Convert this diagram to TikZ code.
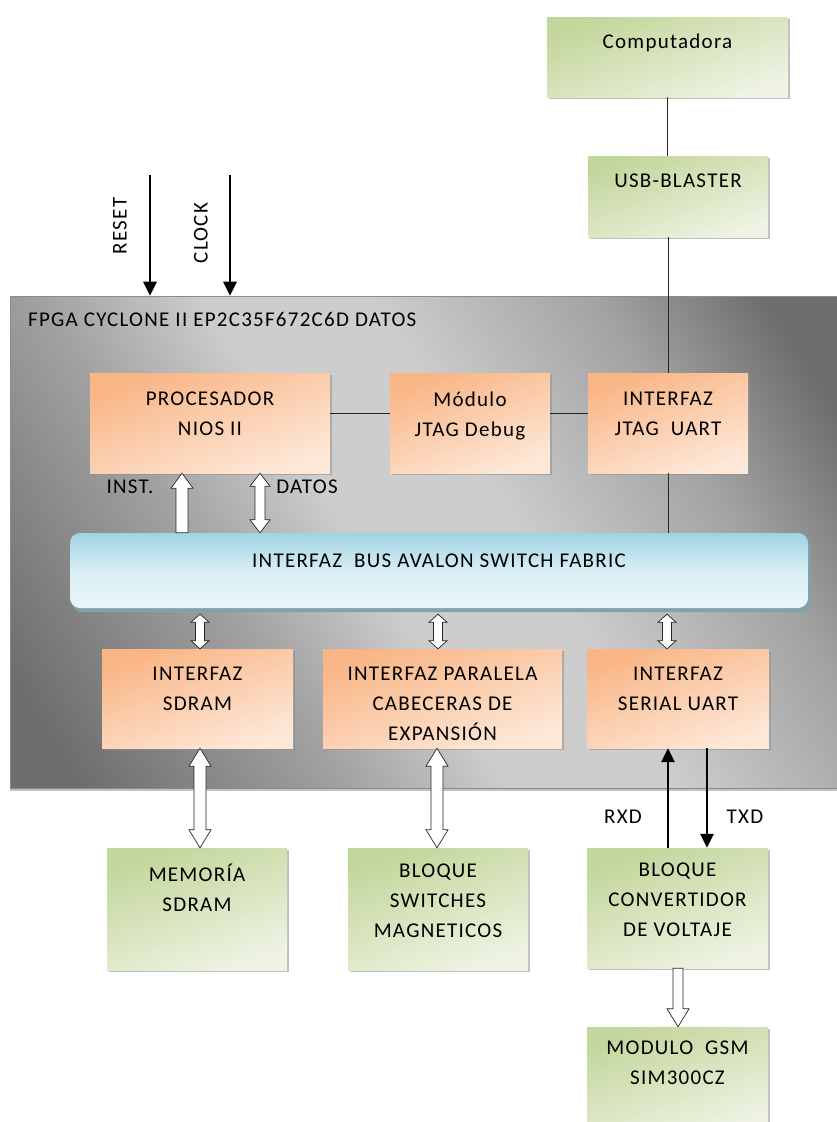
\documentclass[tikz,border=0pt]{standalone}
\usepackage{fontspec}
\setmainfont{Carlito}[LetterSpace=6]
\usetikzlibrary{arrows.meta,shadows,calc}

\definecolor{gtop}{HTML}{C3D69B}
\definecolor{gbot}{HTML}{EEF3E3}
\definecolor{otop}{HTML}{F9B585}
\definecolor{obot}{HTML}{FDE8D8}
\definecolor{btop}{HTML}{9ED3E3}
\definecolor{bmid}{HTML}{D8EEF4}
\definecolor{bbot}{HTML}{E9F6F9}
\definecolor{bdark}{HTML}{7EA3AE}
\definecolor{fpdark}{HTML}{6E6E6E}
\definecolor{fpmid}{HTML}{A2A2A2}
\definecolor{fplight}{HTML}{CDCDCD}
\pgfdeclareverticalshading{fpgaband}{100bp}{color(0bp)=(fpdark); color(20bp)=(fpdark); color(36bp)=(fpmid); color(46bp)=(fplight); color(56bp)=(fplight); color(70bp)=(fpmid); color(80bp)=(fpdark); color(100bp)=(fpdark)}

% hollow double-headed vertical arrow: x, top ref, bottom ref, shaft half, head half, head length
\newcommand{\vdbl}[6]{%
  \draw[hollow] let \p1=#2, \p2=#3 in
    (#1pt,\y1) -- (#1pt+#5,\y1-#6) -- (#1pt+#4,\y1-#6) -- (#1pt+#4,\y2+#6) -- (#1pt+#5,\y2+#6)
    -- (#1pt,\y2) -- (#1pt-#5,\y2+#6) -- (#1pt-#4,\y2+#6) -- (#1pt-#4,\y1-#6) -- (#1pt-#5,\y1-#6) -- cycle;}
% hollow single arrow pointing up (tip at top ref)
\newcommand{\vup}[6]{%
  \draw[hollow] let \p1=#2, \p2=#3 in
    (#1pt,\y1) -- (#1pt+#5,\y1-#6) -- (#1pt+#4,\y1-#6) -- (#1pt+#4,\y2)
    -- (#1pt-#4,\y2) -- (#1pt-#4,\y1-#6) -- (#1pt-#5,\y1-#6) -- cycle;}
% hollow single arrow pointing down (tip at bottom ref)
\newcommand{\vdown}[6]{%
  \draw[hollow] let \p1=#2, \p2=#3 in
    (#1pt-#4,\y1) -- (#1pt+#4,\y1) -- (#1pt+#4,\y2+#6) -- (#1pt+#5,\y2+#6)
    -- (#1pt,\y2) -- (#1pt-#5,\y2+#6) -- (#1pt-#4,\y2+#6) -- cycle;}

\begin{document}
\begin{tikzpicture}[x=1pt,y=-1pt,
  fnt/.style={font=\fontsize{21}{30}\selectfont},
  txt/.style={fnt, align=center, inner sep=0pt, anchor=north, execute at begin node=\rule{0pt}{17pt}},
  lbl/.style={fnt, inner sep=0pt},
  box/.style={inner sep=0pt, shading=axis,
    drop shadow={shadow xshift=1.5pt, shadow yshift=-2pt, fill=black!45, opacity=.55}},
  gbox/.style={box, top color=gtop, bottom color=gbot, shading angle=20},
  obox/.style={box, top color=otop, bottom color=obot, shading angle=20},
  busbox/.style={inner sep=0pt, rounded corners=10pt, shading=axis,
    top color=btop, bottom color=bbot, middle color=bmid,
    drop shadow={shadow xshift=2pt, shadow yshift=-4pt, fill=bdark, opacity=1}},
  fpgabox/.style={inner sep=0pt, shade, shading=fpgaband, shading angle=-58,
    draw=black!45, line width=0.6pt,
    drop shadow={shadow xshift=0pt, shadow yshift=-3pt, fill=black!40, opacity=.6}},
  sig/.style={line width=2.7pt, -{Triangle[width=13pt,length=14pt]}},
  hollow/.style={draw=black!85, fill=white, line width=0.7pt},
  wire/.style={line width=0.9pt, draw=black!85}]

\path[fill=white, use as bounding box] (0,0) rectangle (837,1122);

% FPGA container
\node[fpgabox, minimum width=827pt, minimum height=492pt] (fpga) at (423.5,542) {};
\node[lbl, anchor=west] (title) at (28,319) {FPGA CYCLONE II EP2C35F672C6D DATOS};

% external top boxes
\node[gbox, minimum width=241pt, minimum height=80pt] (comp) at (667.5,57) {};
\node[txt] (comp-t) at ([yshift=-14pt]comp.north) {Computadora};
\node[gbox, minimum width=180pt, minimum height=81pt] (usb) at (678,196.5) {};
\node[txt] (usb-t) at ([yshift=-14pt]usb.north) {USB-BLASTER};

% inner top row
\node[obox, minimum width=240pt, minimum height=100pt] (nios) at (210,423) {};
\node[txt] (nios-t) at ([yshift=-19pt]nios.north) {PROCESADOR\\NIOS II};
\node[obox, minimum width=160pt, minimum height=100pt] (mod) at (470,423) {};
\node[txt] (mod-t) at ([yshift=-19pt]mod.north) {Módulo\\JTAG Debug};
\node[obox, minimum width=160pt, minimum height=100pt] (jtag) at (668,423) {};
\node[txt] (jtag-t) at ([yshift=-19pt]jtag.north) {INTERFAZ\\JTAG\ \ UART};

% bus
\node[busbox, minimum width=738pt, minimum height=75pt] (bus) at (439,570.5) {};
\node[lbl] (bus-t) at (439,561) {INTERFAZ\ \ BUS AVALON SWITCH FABRIC};

% inner bottom row
\node[obox, minimum width=191pt, minimum height=99pt] (isdram) at (197.5,698.5) {};
\node[txt] (isdram-t) at ([yshift=-18pt]isdram.north) {INTERFAZ\\SDRAM};
\node[obox, minimum width=239pt, minimum height=99pt] (ipar) at (442.5,698.5) {};
\node[txt] (ipar-t) at ([yshift=-18pt]ipar.north) {INTERFAZ PARALELA\\CABECERAS DE\\EXPANSIÓN};
\node[obox, minimum width=182pt, minimum height=99pt] (iser) at (678,698.5) {};
\node[txt] (iser-t) at ([yshift=-18pt]iser.north) {INTERFAZ\\SERIAL UART};

% external bottom boxes
\node[gbox, minimum width=180pt, minimum height=122pt] (mem) at (197,909) {};
\node[txt] (mem-t) at ([yshift=-16pt]mem.north) {MEMORÍA\\SDRAM};
\node[gbox, minimum width=180pt, minimum height=122pt] (sw) at (438,909) {};
\node[txt] (sw-t) at ([yshift=-16pt]sw.north) {BLOQUE\\SWITCHES\\MAGNETICOS};
\node[gbox, minimum width=181pt, minimum height=120pt] (conv) at (677.5,908) {};
\node[txt] (conv-t) at ([yshift=-15pt]conv.north) {BLOQUE\\CONVERTIDOR\\DE VOLTAJE};
\node[gbox, minimum width=181pt, minimum height=106pt] (gsm) at (677.5,1080) {};
\node[txt] (gsm-t) at ([yshift=-14pt]gsm.north) {MODULO\ \ GSM\\SIM300CZ};

% plain wires
\draw[wire] (comp.south) -- (comp.south |- usb.north);
\draw[wire] (usb.south -| jtag.north) -- (jtag.north);
\draw[wire] (jtag.south) -- (jtag.south |- bus.north);
\draw[wire] ([yshift=10pt]nios.east) -- ([yshift=10pt]mod.west);
\draw[wire] ([yshift=10pt]mod.east) -- ([yshift=10pt]jtag.west);

% reset / clock
\coordinate (rst) at (150,175);
\coordinate (clk) at (230,175);
\draw[sig] (rst) -- (rst |- fpga.north);
\draw[sig] (clk) -- (clk |- fpga.north);
\node[lbl, rotate=90] (rst-l) at (120,226) {RESET};
\node[lbl, rotate=90] (clk-l) at (201,233) {CLOCK};

% processor <-> bus
\vup{182}{(nios.south)}{(bus.north)}{6pt}{11pt}{15pt}
\vdbl{260}{(nios.south)}{(bus.north)}{5pt}{10pt}{13pt}
\node[lbl] (inst-l) at (130,487) {INST.};
\node[lbl] (datos-l) at (307,487) {DATOS};

% bus <-> interfaces
\vdbl{200}{([yshift=-6pt]bus.south)}{(isdram.north)}{4.5pt}{9pt}{8pt}
\vdbl{438}{([yshift=-6pt]bus.south)}{(ipar.north)}{4.5pt}{9pt}{8pt}
\vdbl{667}{([yshift=-6pt]bus.south)}{(iser.north)}{4.5pt}{9pt}{8pt}

% interfaces <-> external
\vdbl{200}{(isdram.south)}{(mem.north)}{6pt}{11pt}{18pt}
\vdbl{437}{(ipar.south)}{(sw.north)}{6pt}{11pt}{18pt}

% serial lines
\coordinate (rx) at ([xshift=-9.5pt]conv.north);
\coordinate (tx) at ([xshift=29.5pt]conv.north);
\draw[sig] (rx) -- (rx |- iser.south);
\draw[sig] (tx |- iser.south) -- (tx);
\node[lbl] (rxd-l) at (623,817) {RXD};
\node[lbl] (txd-l) at (745,817) {TXD};

% converter -> GSM
\vdown{678}{(conv.south)}{(gsm.north)}{5pt}{11pt}{18pt}
\end{tikzpicture}
\end{document}
